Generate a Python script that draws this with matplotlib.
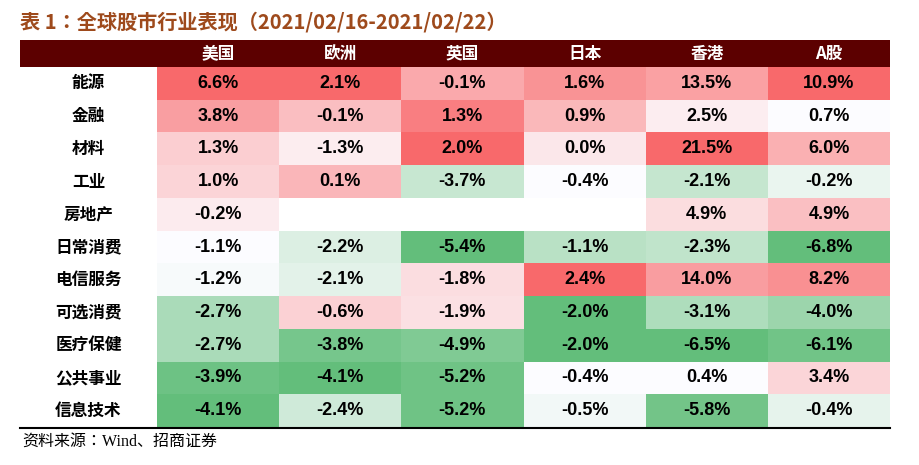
import numpy as np
import matplotlib
matplotlib.use("Agg")
import matplotlib.pyplot as plt
from matplotlib.patches import Rectangle

FONT = ["Noto Sans CJK SC", "Noto Sans CJK JP", "Noto Sans CJK TC", "DejaVu Sans"]
rows = ["能源", "金融", "材料", "工业", "房地产", "日常消费", "电信服务", "可选消费", "医疗保健", "公共事业", "信息技术"]
cols = ["美国", "欧洲", "英国", "日本", "香港", "A股"]
us = [6.6, 3.8, 1.3, 1.0, -0.2, -1.1, -1.2, -2.7, -2.7, -3.9, -4.1]
eu = [2.1, -0.1, -1.3, 0.1, np.nan, -2.2, -2.1, -0.6, -3.8, -4.1, -2.4]
uk = [-0.1, 1.3, 2.0, -3.7, np.nan, -5.4, -1.8, -1.9, -4.9, -5.2, -5.2]
jp = [1.6, 0.9, 0.0, -0.4, np.nan, -1.1, 2.4, -2.0, -2.0, -0.4, -0.5]
hk = [13.5, 2.5, 21.5, -2.1, 4.9, -2.3, 14.0, -3.1, -6.5, 0.4, -5.8]
a_share = [10.9, 0.7, 6.0, -0.2, 4.9, -6.8, 8.2, -4.0, -6.1, 3.4, -0.4]
data = np.array([us, eu, uk, jp, hk, a_share]).T

RED = np.array([248, 105, 107]) / 255
WHITE = np.array([252, 252, 255]) / 255
GREEN = np.array([99, 190, 123]) / 255

def color_for(v, col):
    c = col[~np.isnan(col)]
    lo, mid, hi = c.min(), np.median(c), c.max()
    if v >= mid:
        t = 0 if hi == mid else (v - mid) / (hi - mid)
        return WHITE + (RED - WHITE) * t
    t = (mid - v) / (mid - lo)
    return WHITE + (GREEN - WHITE) * t

fig = plt.figure(figsize=(9.19, 4.65), dpi=100)
ax = fig.add_axes([0, 0, 1, 1])
ax.set_xlim(0, 919); ax.set_ylim(465, 0); ax.axis("off")

ax.text(20, 22, "表 1：全球股市行业表现（2021/02/16-2021/02/22）", fontfamily=FONT,
        fontsize=14.5, fontweight="bold", color="#9E4A1C", va="center", ha="left")

x0, x1, lab_w = 20, 890, 137
cw = (x1 - x0 - lab_w) / len(cols)
hy0, hy1 = 40, 67
rh = (427 - hy1) / len(rows)
ax.add_patch(Rectangle((x0, hy0), x1 - x0, hy1 - hy0, color="#5C0000", lw=0))
for j, c in enumerate(cols):
    ax.text(x0 + lab_w + cw * (j + 0.5), (hy0 + hy1) / 2, c, fontfamily=FONT, fontsize=12,
            fontweight="bold", color="white", ha="center", va="center")
for i, r in enumerate(rows):
    y = hy1 + rh * i
    ax.text(x0 + lab_w / 2, y + rh / 2, r, fontfamily=FONT, fontsize=12, fontweight="bold",
            ha="center", va="center")
    for j in range(len(cols)):
        v = data[i, j]
        if np.isnan(v):
            continue
        ax.add_patch(Rectangle((x0 + lab_w + cw * j, y), cw, rh, color=color_for(v, data[:, j]), lw=0))
        ax.text(x0 + lab_w + cw * (j + 0.5), y + rh / 2, f"{v:.1f}%", fontfamily="Liberation Sans",
                fontsize=13, fontweight="bold", ha="center", va="center")
ax.plot([x0, x1], [428, 428], color="black", lw=1.5)
ax.text(22, 442, "资料来源：Wind、招商证券", fontfamily=["Liberation Serif"] + FONT, fontsize=11.5,
        va="center", ha="left")
fig.savefig("out.png", dpi=100)
